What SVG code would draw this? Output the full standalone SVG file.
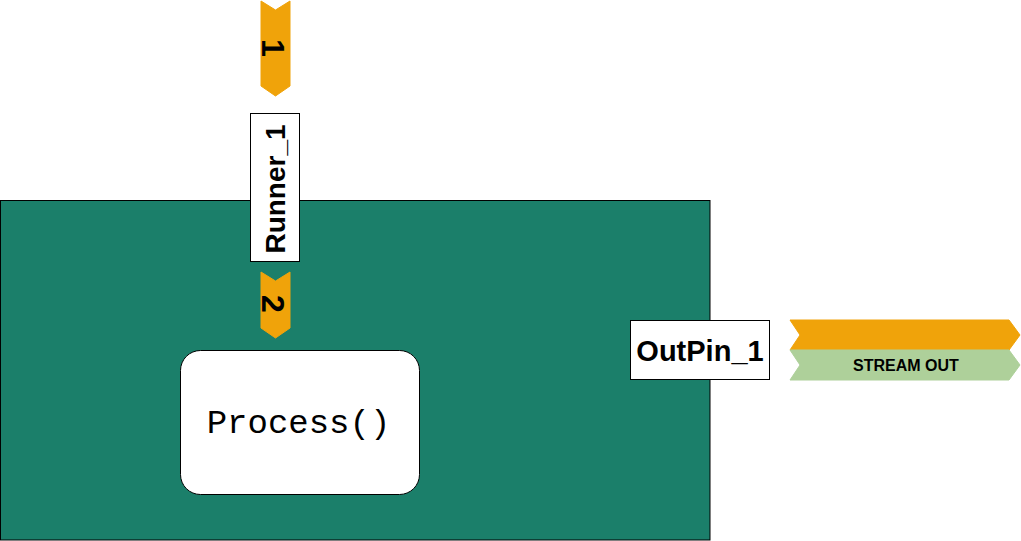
<svg xmlns="http://www.w3.org/2000/svg" width="1021" height="541" viewBox="0 0 1021 541">
<style>
.box{fill:#fff;stroke:#000;stroke-width:1}
.orange{fill:#f0a30a;stroke:#f0a30a;stroke-width:1}
.green{fill:#aed09a;stroke:#aed09a;stroke-width:1}
.lbl{font-family:"Liberation Sans",Arial,sans-serif;font-weight:bold;fill:#000}
</style>
<rect width="1021" height="541" fill="#fff"/>
<g id="component">
<rect x="0.5" y="200.5" width="709.5" height="339.5" fill="#1b7f6a" stroke="#000" stroke-width="1"/>
</g>
<g id="process">
<rect x="180.5" y="350.5" width="239" height="144" rx="20" ry="20" class="box"/>
<text x="298.5" y="433" text-anchor="middle" font-family="'Courier New','Liberation Mono',monospace" font-size="34" fill="#000">Process()</text>
</g>
<g id="runner">
<rect x="250.5" y="113.5" width="49" height="148" class="box"/>
<text transform="translate(285,189) rotate(-90)" text-anchor="middle" class="lbl" font-size="28">Runner_1</text>
</g>
<g id="outpin">
<rect x="630.5" y="320.5" width="139" height="59" class="box"/>
<text x="700" y="361" text-anchor="middle" class="lbl" font-size="29">OutPin_1</text>
</g>
<g id="connectors">
<g id="step1">
<polygon points="261,1 275.5,10 290,1 290,86 275.5,96 261,86" class="orange"/>
<text transform="translate(262,48) rotate(90)" text-anchor="middle" class="lbl" font-size="32">1</text>
</g>
<g id="step2">
<polygon points="261,272 275.5,281 290,272 290,328 275.5,338 261,328" class="orange"/>
<text transform="translate(262,304) rotate(90)" text-anchor="middle" class="lbl" font-size="32">2</text>
</g>
<g id="stream">
<polygon points="790,320 1009,320 1020,335 1009,350 790,350 800,335" class="orange"/>
<polygon points="790,350 1009,350 1020,365 1009,380 790,380 800,365" class="green"/>
<text x="906" y="371" text-anchor="middle" class="lbl" font-size="16">STREAM OUT</text>
</g>
</g>
</svg>
